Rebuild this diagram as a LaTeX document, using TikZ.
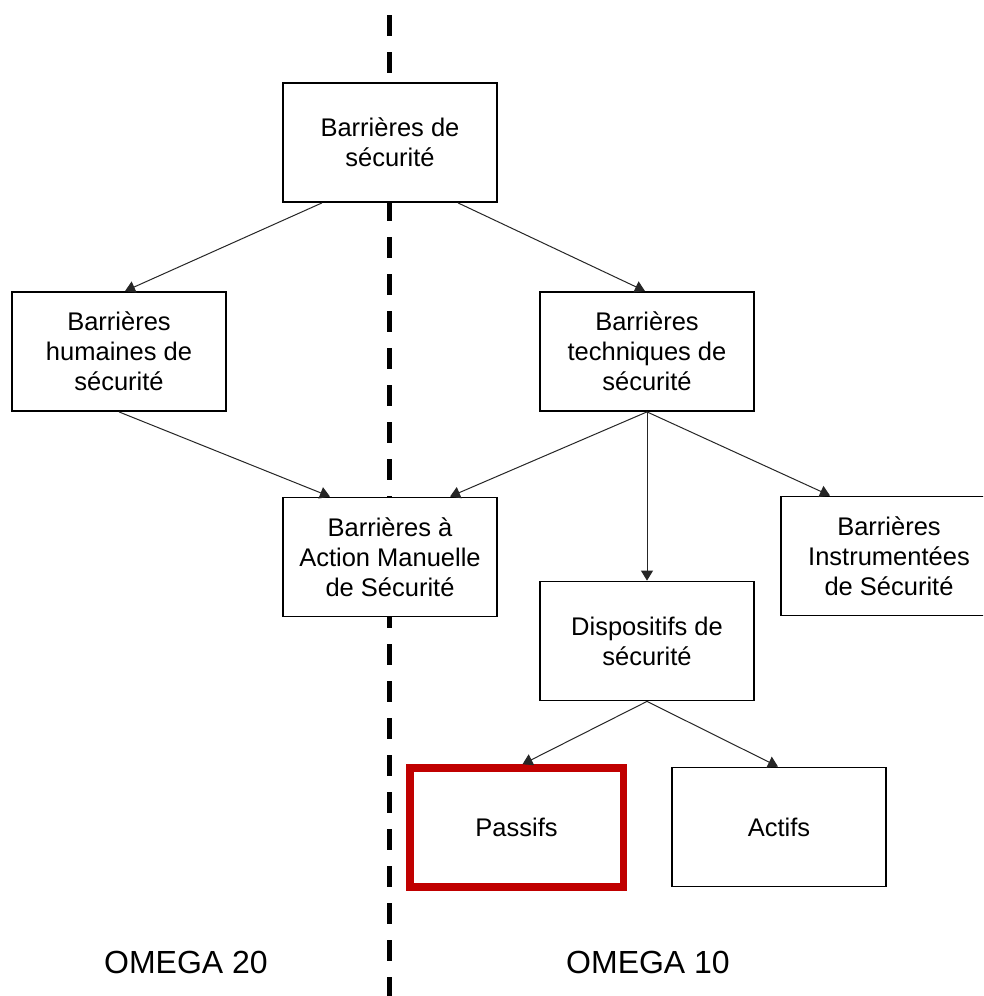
\documentclass[tikz,border=0pt]{standalone}
\usepackage{fontspec}
\setmainfont{Liberation Sans}
\usetikzlibrary{arrows.meta}
\definecolor{boxred}{HTML}{C00000}
\definecolor{linegrey}{HTML}{262626}
\tikzset{
  box/.style={draw=black, line width=1.8pt, fill=white, minimum width=214pt, minimum height=119pt,
    inner sep=0pt, align=center, font=\fontsize{25.5}{30}\selectfont},
  redbox/.style={box, draw=boxred, line width=7.5pt, minimum width=213.5pt, minimum height=119pt},
  conn/.style={draw=linegrey, line width=1pt, -{Triangle[length=10pt,width=12pt]}},
  divider/.style={line width=5pt, dash pattern=on 21pt off 16pt},
  region/.style={font=\fontsize{32}{36}\selectfont, inner sep=0pt}
}
\begin{document}
\begin{tikzpicture}[x=1pt,y=-1pt]
\useasboundingbox (0,0) rectangle (983,996);
\clip (0,0) rectangle (983,996);
\fill[white] (0,0) rectangle (983,996);
\coordinate (lt) at (389.5,15);
\coordinate (lb) at (389.5,996);
\draw[divider] (lt) -- (lb);

\node[box] (top) at (390,142.5) {Barrières de\\sécurité};
\node[box] (hum) at (119,351.5) {Barrières\\humaines de\\sécurité};
\node[box] (tech) at (647,351.5) {Barrières\\techniques de\\sécurité};
\node[box] (man) at (390,557) {Barrières à\\Action Manuelle\\de Sécurité};
\node[box, minimum width=216pt] (inst) at (889,556) {Barrières\\Instrumentées\\de Sécurité};
\node[box] (disp) at (647,641) {Dispositifs de\\sécurité};
\node[redbox] (pas) at (516.5,827.5) {Passifs};
\node[box] (act) at (779,827) {Actifs};

\node[region] (o20) at (186,962) {OMEGA 20};
\node[region] (o10) at (648,962) {OMEGA 10};

\draw[conn] ([xshift=-68pt]top.south) -- ([xshift=6pt]hum.north);
\draw[conn] ([xshift=68pt]top.south) -- ([xshift=-2pt]tech.north);
\draw[conn] (hum.south) -- ([xshift=-60pt]man.north);
\draw[conn] (tech.south) -- ([xshift=60pt]man.north);
\draw[conn] (tech.south) -- (disp.north);
\draw[conn] (tech.south) -- ([xshift=-59pt]inst.north);
\draw[conn] (disp.south) -- ([xshift=6pt]pas.north);
\draw[conn] (disp.south) -- ([xshift=-1pt]act.north);
\end{tikzpicture}
\end{document}
